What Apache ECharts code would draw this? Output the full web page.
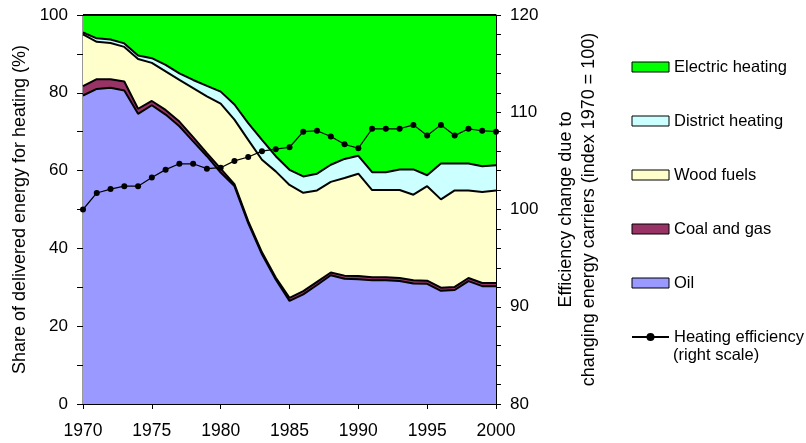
<!DOCTYPE html>
<html>
<head>
<meta charset="utf-8">
<script src="https://cdn.jsdelivr.net/npm/echarts@6/dist/echarts.min.js"></script>
<style>
html,body{margin:0;padding:0;background:#fff;}
#chart{width:806px;height:443px;}
</style>
</head>
<body>
<div id="chart"></div>
<script>
var years = [1970,1971,1972,1973,1974,1975,1976,1977,1978,1979,1980,1981,1982,1983,1984,1985,1986,1987,1988,1989,1990,1991,1992,1993,1994,1995,1996,1997,1998,1999,2000];
var oil = [79.3,81.0,81.3,80.6,74.6,76.8,74.4,71.4,67.5,63.7,59.5,56.0,46.5,38.5,32.0,26.5,28.2,30.6,33.1,32.2,32.1,31.8,31.8,31.6,31.0,30.9,29.1,29.3,31.6,30.3,30.3];
var coalGas = [2.4,2.5,2.2,2.3,1.3,1.1,1.2,1.2,1.1,0.8,1.0,0.5,0.5,0.5,0.5,0.8,0.8,0.8,0.7,0.8,0.8,0.8,0.8,0.8,0.8,0.8,0.8,0.8,0.8,0.8,0.8];
var woodFuels = [13.3,9.6,9.3,8.9,12.8,9.8,9.9,10.7,12.6,14.6,16.7,16.6,20.9,23.8,27.3,29.0,25.3,23.5,23.3,25.1,26.3,22.4,22.4,22.6,22.0,24.3,22.7,24.8,22.5,23.4,23.8];
var districtHeating = [0.5,0.9,0.9,0.9,0.9,1.2,1.7,1.7,2.1,2.7,3.1,3.9,4.3,5.1,3.9,3.9,4.2,4.3,4.4,4.9,4.6,4.6,4.6,5.3,6.5,2.8,9.2,6.9,6.9,6.6,6.5];
var electricHeating = [4.5,6.0,6.3,7.3,10.4,11.1,12.8,15.0,16.7,18.2,19.7,23.0,27.8,32.1,36.3,39.8,41.5,40.8,38.5,37.0,36.2,40.4,40.4,39.7,39.7,41.2,38.2,38.2,38.2,38.9,38.6];
var efficiency = [100,101.7,102.1,102.4,102.4,103.3,104.1,104.7,104.7,104.2,104.3,105.0,105.4,106.0,106.2,106.4,108.0,108.1,107.5,106.7,106.3,108.3,108.3,108.3,108.7,107.6,108.7,107.6,108.3,108.1,108.0];

var FONT = 'Liberation Sans, Arial, sans-serif';

function areaSeries(name, vals, color){
  return {
    name: name, type: 'line', stack: 'share', data: vals,
    symbol: 'none', showSymbol: false,
    itemStyle: {color: color},
    lineStyle: {color: '#000', width: 2},
    areaStyle: {color: color, opacity: 1},
    silent: true
  };
}

var chart = echarts.init(document.getElementById('chart'), null, {renderer: 'canvas'});
chart.setOption({
  animation: false,
  backgroundColor: '#fff',
  textStyle: {fontFamily: FONT},
  grid: {left: 83, right: 310, top: 15, bottom: 39, show: true, borderColor: '#333', borderWidth: 1, backgroundColor: 'transparent'},
  legend: {
    orient: 'vertical', left: 631, top: 58, padding: 0,
    itemWidth: 37, itemHeight: 10, itemGap: 36,
    textStyle: {fontFamily: FONT, fontSize: 16.5, color: '#000', lineHeight: 18},
    data: [
      {name: 'Electric heating', icon: 'rect', itemStyle: {color: '#00FF00', borderColor: '#000', borderWidth: 1}},
      {name: 'District heating', icon: 'rect', itemStyle: {color: '#CCFFFF', borderColor: '#000', borderWidth: 1}},
      {name: 'Wood fuels', icon: 'rect', itemStyle: {color: '#FFFFCC', borderColor: '#000', borderWidth: 1}},
      {name: 'Coal and gas', icon: 'rect', itemStyle: {color: '#993366', borderColor: '#000', borderWidth: 1}},
      {name: 'Oil', icon: 'rect', itemStyle: {color: '#9999FF', borderColor: '#000', borderWidth: 1}},
      {name: 'Heating efficiency'}
    ],
    selectedMode: false
  },
  graphic: [{
    type: 'text', left: 673, top: 347,
    style: {text: '(right scale)', font: '16.5px ' + FONT, fill: '#000'}
  }],
  xAxis: {
    type: 'category', data: years, boundaryGap: false,
    axisLine: {show: true, lineStyle: {color: '#000', width: 1}},
    axisTick: {show: true, length: 5, interval: 4, lineStyle: {color: '#000'}},
    axisLabel: {color: '#000', fontSize: 17.5, margin: 18, interval: 4, fontFamily: FONT},
    splitLine: {show: false}
  },
  yAxis: [{
    type: 'value', min: 0, max: 100, interval: 20,
    name: 'Share of delivered energy for heating (%)',
    nameLocation: 'middle', nameRotate: 90, nameGap: 52,
    nameTextStyle: {color: '#000', fontSize: 18, fontFamily: FONT},
    axisLine: {show: true, lineStyle: {color: '#000', width: 1}},
    axisTick: {show: true, length: 6, lineStyle: {color: '#000'}},
    minorTick: {show: true, splitNumber: 2, length: 6, lineStyle: {color: '#000'}},
    axisLabel: {color: '#000', fontSize: 17, margin: 15, fontFamily: FONT},
    splitLine: {show: false}
  }, {
    type: 'value', min: 80, max: 120, interval: 10, position: 'right',
    name: 'Efficiency change due to\nchanging energy carriers (index 1970 = 100)',
    nameLocation: 'middle', nameRotate: 90, nameGap: 59,
    nameTextStyle: {color: '#000', fontSize: 18, fontFamily: FONT, lineHeight: 23, align: 'center'},
    axisLine: {show: true, lineStyle: {color: '#000', width: 1}},
    axisTick: {show: true, length: 5, lineStyle: {color: '#000'}},
    minorTick: {show: true, splitNumber: 5, length: 5, lineStyle: {color: '#000'}},
    axisLabel: {color: '#000', fontSize: 17, margin: 14, fontFamily: FONT},
    splitLine: {show: false}
  }],
  series: [
    areaSeries('Oil', oil, '#9999FF'),
    areaSeries('Coal and gas', coalGas, '#993366'),
    areaSeries('Wood fuels', woodFuels, '#FFFFCC'),
    areaSeries('District heating', districtHeating, '#CCFFFF'),
    areaSeries('Electric heating', electricHeating, '#00FF00'),
    {
      name: 'Heating efficiency', type: 'line', yAxisIndex: 1, data: efficiency,
      symbol: 'circle', symbolSize: 6, showSymbol: true, z: 5,
      itemStyle: {color: '#000'}, lineStyle: {color: '#000', width: 1.2}
    }
  ]
});
</script>
</body>
</html>
